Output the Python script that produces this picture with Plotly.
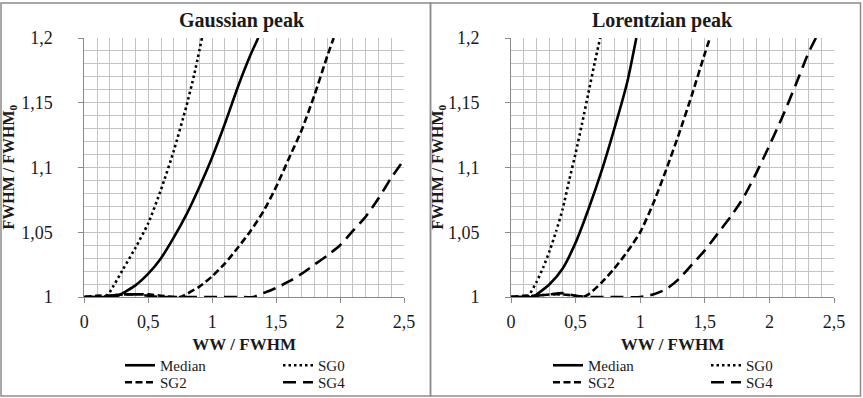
import plotly.graph_objects as go

# ---------------- data ----------------
panel_titles = ["Gaussian peak", "Lorentzian peak"]
series_names = ["Median", "SG0", "SG2", "SG4"]
x_title = "WW / FWHM"
y_title = "FWHM / FWHM<sub>0</sub>"

x_ticks = [0, 0.5, 1, 1.5, 2, 2.5]
x_tick_labels = ["0", "0,5", "1", "1,5", "2", "2,5"]
y_ticks = [1, 1.05, 1.1, 1.15, 1.2]
y_tick_labels = ["1", "1,05", "1,1", "1,15", "1,2"]

# Gaussian peak
g_median_x = [0, 0.1, 0.2, 0.26, 0.4, 0.5, 0.6, 0.7, 0.8, 0.9, 1.0, 1.1, 1.2, 1.3, 1.36]
g_median_y = [1, 1, 1, 1.001, 1.009, 1.018, 1.030, 1.046, 1.064, 1.085, 1.108, 1.134, 1.162, 1.187, 1.2]
g_sg0_x = [0, 0.1, 0.16, 0.2, 0.3, 0.4, 0.5, 0.6, 0.7, 0.8, 0.86, 0.92]
g_sg0_y = [1, 1, 1.0, 1.004, 1.021, 1.038, 1.057, 1.083, 1.113, 1.148, 1.172, 1.2]
g_sg2_x = [0, 0.1, 0.2, 0.3, 0.4, 0.5, 0.6, 0.7, 0.75, 0.9, 1.0, 1.1, 1.2, 1.3, 1.4, 1.5, 1.6, 1.7, 1.8, 1.9, 1.95]
g_sg2_y = [1, 1.001, 1.001, 1.002, 1.002, 1.002, 1.001, 1.0, 1.0, 1.008, 1.016, 1.026, 1.038, 1.051, 1.066, 1.085, 1.107, 1.129, 1.156, 1.186, 1.2]
g_sg4_x = [0, 0.1, 0.2, 0.3, 0.4, 0.5, 0.6, 0.8, 1.0, 1.2, 1.32, 1.4, 1.5, 1.6, 1.7, 1.8, 1.9, 2.0, 2.1, 2.2, 2.3, 2.4, 2.5]
g_sg4_y = [1, 1.0, 1.001, 1.002, 1.002, 1.001, 1.0, 1.0, 1.0, 1.0, 1.0, 1.003, 1.007, 1.012, 1.018, 1.025, 1.032, 1.040, 1.051, 1.062, 1.076, 1.092, 1.106]

# Lorentzian peak
l_median_x = [0, 0.1, 0.17, 0.2, 0.3, 0.4, 0.5, 0.6, 0.7, 0.8, 0.9, 0.97]
l_median_y = [1, 1, 1.0, 1.002, 1.010, 1.022, 1.042, 1.068, 1.097, 1.13, 1.166, 1.2]
l_sg0_x = [0, 0.1, 0.13, 0.15, 0.2, 0.25, 0.3, 0.35, 0.4, 0.45, 0.5, 0.55, 0.6, 0.65, 0.69]
l_sg0_y = [1, 1, 1.0, 1.003, 1.012, 1.023, 1.036, 1.051, 1.068, 1.09, 1.111, 1.134, 1.158, 1.182, 1.2]
l_sg2_x = [0, 0.1, 0.2, 0.3, 0.4, 0.5, 0.56, 0.6, 0.7, 0.8, 0.9, 1.0, 1.1, 1.2, 1.3, 1.4, 1.5, 1.54]
l_sg2_y = [1, 1.001, 1.001, 1.002, 1.002, 1.001, 1.0, 1.002, 1.011, 1.022, 1.035, 1.05, 1.072, 1.098, 1.126, 1.156, 1.188, 1.2]
l_sg4_x = [0, 0.1, 0.2, 0.3, 0.4, 0.5, 0.6, 0.8, 1.0, 1.1, 1.2, 1.3, 1.4, 1.5, 1.6, 1.7, 1.8, 1.9, 2.0, 2.1, 2.2, 2.3, 2.36]
l_sg4_y = [1, 1.0, 1.001, 1.002, 1.003, 1.001, 1.0, 1.0, 1.0, 1.002, 1.006, 1.014, 1.025, 1.036, 1.049, 1.062, 1.077, 1.096, 1.117, 1.139, 1.163, 1.188, 1.2]

# ---------------- styling ----------------
W, H = 863, 398
FONT = "Liberation Serif"
TXT = "#1a1a1a"
GRID = "#c3c3c3"
AXIS = "#8a8a8a"
styles = {
    "Median": dict(width=2.6, dash="solid"),
    "SG0": dict(width=2.6, dash="2.5px,3px"),
    "SG2": dict(width=2.6, dash="7px,3.5px"),
    "SG4": dict(width=2.6, dash="13px,7px"),
}

panels = [
    dict(xaxis="x", yaxis="y", legends=("legend", "legend2"),
         data=[(g_median_x, g_median_y), (g_sg0_x, g_sg0_y), (g_sg2_x, g_sg2_y), (g_sg4_x, g_sg4_y)]),
    dict(xaxis="x2", yaxis="y2", legends=("legend3", "legend4"),
         data=[(l_median_x, l_median_y), (l_sg0_x, l_sg0_y), (l_sg2_x, l_sg2_y), (l_sg4_x, l_sg4_y)]),
]

fig = go.Figure()
for p in panels:
    for name, (xs, ys) in zip(series_names, p["data"]):
        leg = p["legends"][0] if name in ("Median", "SG0") else p["legends"][1]
        fig.add_trace(go.Scatter(
            x=xs, y=ys, name=name, mode="lines",
            line=dict(color="black", shape="spline", smoothing=0.6, **styles[name]),
            xaxis=p["xaxis"], yaxis=p["yaxis"], legend=leg, showlegend=True,
            hoverinfo="skip",
        ))


def px_x(v):
    return v / W


def px_y(v):
    return 1 - v / H


def xaxis_cfg(domain, anchor):
    return dict(
        domain=domain, anchor=anchor, range=[0, 2.5], automargin=False,
        tickmode="array", tickvals=x_ticks, ticktext=x_tick_labels,
        showgrid=True, gridcolor=GRID, gridwidth=1,
        minor=dict(tickmode="linear", tick0=0, dtick=0.1, showgrid=True,
                   gridcolor=GRID, gridwidth=1, ticks=""),
        showline=True, linecolor=AXIS, linewidth=1,
        ticks="outside", ticklen=5, tickcolor=AXIS, tickwidth=1,
        ticklabelstandoff=3,
        zeroline=False, fixedrange=True,
        tickfont=dict(family=FONT, size=18, color=TXT),
        title=dict(text="<b>%s</b>" % x_title, standoff=7,
                   font=dict(family=FONT, size=17, color=TXT)),
    )


def yaxis_cfg(anchor):
    return dict(
        domain=[px_y(297), px_y(38)], anchor=anchor, range=[1, 1.2], automargin=False,
        tickmode="array", tickvals=y_ticks, ticktext=y_tick_labels,
        showgrid=True, gridcolor=GRID, gridwidth=1,
        minor=dict(tickmode="linear", tick0=1, dtick=0.01, showgrid=True,
                   gridcolor=GRID, gridwidth=1, ticks=""),
        showline=True, linecolor=AXIS, linewidth=1,
        ticks="outside", ticklen=5, tickcolor=AXIS, tickwidth=1,
        ticklabelstandoff=22,
        zeroline=False, fixedrange=True,
        tickfont=dict(family=FONT, size=18, color=TXT),
    )


def legend_cfg(x_text_px, y_px):
    return dict(
        orientation="h", x=px_x(x_text_px - 40), xanchor="left",
        y=px_y(y_px), yanchor="middle",
        entrywidth=113, entrywidthmode="pixels",
        bgcolor="rgba(0,0,0,0)", borderwidth=0,
        font=dict(family=FONT, size=15, color=TXT),
        itemclick=False, itemdoubleclick=False,
    )


def title_ann(text, x_px):
    return dict(text="<b>%s</b>" % text, x=px_x(x_px), y=px_y(20),
                xref="paper", yref="paper", xanchor="center", yanchor="middle",
                showarrow=False, font=dict(family=FONT, size=20, color=TXT))


def ytitle_ann(x_px):
    return dict(text="<b>%s</b>" % y_title, x=px_x(x_px), y=px_y(167.5),
                xref="paper", yref="paper", xanchor="center", yanchor="middle",
                textangle=-90, showarrow=False,
                font=dict(family=FONT, size=16, color=TXT))


fig.update_layout(
    width=W, height=H,
    margin=dict(l=0, r=0, t=0, b=0, autoexpand=False),
    paper_bgcolor="white", plot_bgcolor="white",
    font=dict(family=FONT, color=TXT),
    xaxis=xaxis_cfg([px_x(84.3), px_x(404)], "y"),
    yaxis=yaxis_cfg("x"),
    xaxis2=xaxis_cfg([px_x(511), px_x(834)], "y2"),
    yaxis2=yaxis_cfg("x2"),
    legend=legend_cfg(160, 365.5),
    legend2=legend_cfg(160, 382.5),
    legend3=legend_cfg(588, 365.5),
    legend4=legend_cfg(588, 382.5),
    annotations=[title_ann(panel_titles[0], 242), title_ann(panel_titles[1], 662),
                 ytitle_ann(9), ytitle_ann(438)],
    shapes=[
        dict(type="rect", xref="paper", yref="paper",
             x0=px_x(1), x1=px_x(430.5), y0=px_y(396), y1=px_y(3),
             line=dict(color="#8c8c8c", width=1.5)),
        dict(type="rect", xref="paper", yref="paper",
             x0=px_x(430.5), x1=px_x(860.5), y0=px_y(396), y1=px_y(3),
             line=dict(color="#8c8c8c", width=1.5)),
    ],
    hovermode=False,
)

fig.write_html(
    "out.html",
    config=dict(displayModeBar=False, staticPlot=True),
    post_script="document.body.style.margin='0';document.body.style.padding='0';",
)
